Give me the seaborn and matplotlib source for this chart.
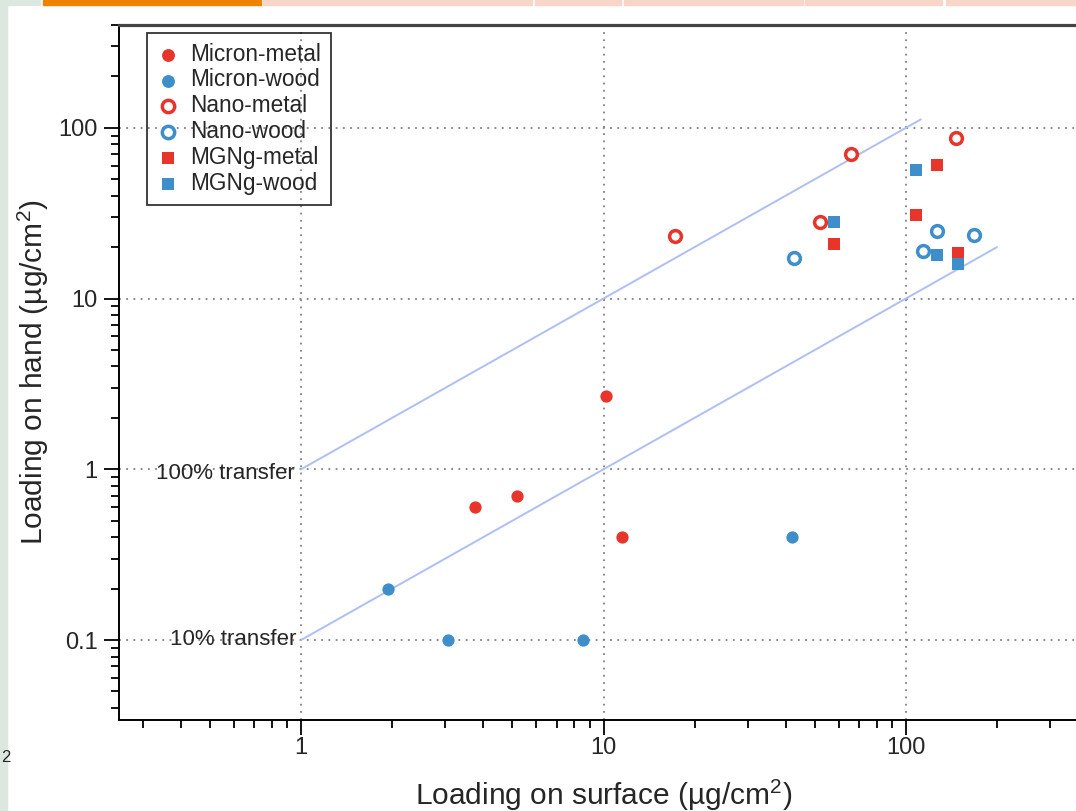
import matplotlib
matplotlib.use("Agg")
import matplotlib.pyplot as plt
import matplotlib.ticker as mticker
from matplotlib.patches import Rectangle
import seaborn as sns
import pandas as pd

# --- data (surface loading, hand loading) in ug/cm2 ---
micron_metal_x = [3.76, 5.19, 10.2, 11.5]
micron_metal_y = [0.60, 0.70, 2.69, 0.40]
micron_wood_x = [1.94, 3.05, 8.53, 42.1]
micron_wood_y = [0.198, 0.10, 0.10, 0.40]
nano_metal_x = [17.2, 52.0, 65.8, 146.0]
nano_metal_y = [23.2, 28.1, 70.7, 87.7]
nano_wood_x = [42.6, 114.0, 127.0, 168.0]
nano_wood_y = [17.3, 19.0, 24.8, 23.7]
mgng_metal_x = [57.8, 108.0, 127.0, 149.0]
mgng_metal_y = [21.0, 31.0, 60.4, 18.4]
mgng_wood_x = [57.8, 108.0, 127.0, 149.0]
mgng_wood_y = [28.1, 56.5, 18.1, 16.0]

group_names = ["Micron-metal", "Micron-wood", "Nano-metal",
               "Nano-wood", "MGNg-metal", "MGNg-wood"]
group_x = [micron_metal_x, micron_wood_x, nano_metal_x,
           nano_wood_x, mgng_metal_x, mgng_wood_x]
group_y = [micron_metal_y, micron_wood_y, nano_metal_y,
           nano_wood_y, mgng_metal_y, mgng_wood_y]

# reference transfer lines
line_100_x = [1, 112]
line_100_y = [1, 112]
line_10_x = [1, 200]
line_10_y = [0.1, 20]

x_ticks = [1, 10, 100]
y_ticks = [0.1, 1, 10, 100]

RED = "#E8352B"
BLUE = "#3D8EC9"
LINE = "#AEBFF2"

rows = []
for name, xs, ys in zip(group_names, group_x, group_y):
    for xv, yv in zip(xs, ys):
        rows.append({"group": name, "surface": xv, "hand": yv})
df = pd.DataFrame(rows)

sns.set_style("ticks")
plt.rcParams["font.family"] = ["Liberation Sans", "DejaVu Sans"]
plt.rcParams["mathtext.fontset"] = "custom"
plt.rcParams["mathtext.rm"] = "Liberation Sans"
plt.rcParams["mathtext.it"] = "Liberation Sans:italic"

fig = plt.figure(figsize=(10.76, 8.11), dpi=100)
ax = fig.add_axes([119 / 1076, 91 / 811, 969 / 1076, 695 / 811])
ax.set_xscale("log")
ax.set_yscale("log")

styles = {
    "Micron-metal": dict(marker="o", s=78, color=RED, linewidth=0),
    "Micron-wood": dict(marker="o", s=78, color=BLUE, linewidth=0),
    "Nano-metal": dict(marker="o", s=72, facecolor="white", edgecolor=RED, linewidth=2.5),
    "Nano-wood": dict(marker="o", s=72, facecolor="white", edgecolor=BLUE, linewidth=2.5),
    "MGNg-metal": dict(marker="s", s=70, color=RED, linewidth=0),
    "MGNg-wood": dict(marker="s", s=70, color=BLUE, linewidth=0),
}

sns.lineplot(x=line_100_x, y=line_100_y, ax=ax, color=LINE, linewidth=1.4, zorder=2)
sns.lineplot(x=line_10_x, y=line_10_y, ax=ax, color=LINE, linewidth=1.4, zorder=2)

for name in group_names:
    sub = df[df["group"] == name]
    sns.scatterplot(data=sub, x="surface", y="hand", ax=ax, label=name,
                    zorder=3, **styles[name])

ax.set_xlim(0.25, 400)
ax.set_ylim(0.034, 400)

fmt = mticker.FuncFormatter(lambda v, p: f"{v:g}")
ax.xaxis.set_major_locator(mticker.FixedLocator(x_ticks))
ax.yaxis.set_major_locator(mticker.FixedLocator(y_ticks))
ax.xaxis.set_major_formatter(fmt)
ax.yaxis.set_major_formatter(fmt)
ax.xaxis.set_minor_formatter(mticker.NullFormatter())
ax.yaxis.set_minor_formatter(mticker.NullFormatter())

ax.grid(True, which="major", color="#808080", linestyle=(0, (1, 3)), linewidth=1.3)
ax.tick_params(which="major", direction="out", length=10.5, width=1.3,
               labelsize=17, color="black")
ax.tick_params(which="minor", direction="out", length=5.5, width=1.3, color="black")
ax.tick_params(axis="y", which="major", pad=5)
ax.tick_params(axis="x", which="major", pad=2)
ax.tick_params(top=False, right=False, which="both")

for side in ["left", "bottom"]:
    ax.spines[side].set_color("black")
    ax.spines[side].set_linewidth(1.4)
ax.spines["top"].set_color("#444444")
ax.spines["top"].set_linewidth(2.3)
ax.spines["right"].set_visible(False)

ax.set_xlabel("Loading on surface (µg/cm$^2$)", fontsize=21.5, labelpad=13)
ax.set_ylabel("Loading on hand (µg/cm$^2$)", fontsize=21.5, labelpad=5)

ax.text(0.955, 0.941, "100% transfer", ha="right", va="center", fontsize=16)
ax.text(0.965, 0.1008, "10% transfer", ha="right", va="center", fontsize=16)

leg = ax.legend(loc="upper left", bbox_to_anchor=(0.0289, 0.9885), borderaxespad=0,
                fontsize=16.3, frameon=True, fancybox=False, facecolor="none",
                edgecolor="black", handlelength=1.0, handletextpad=0.5,
                labelspacing=0.13, borderpad=0.42, markerscale=1.05)
leg.get_frame().set_linewidth(1.3)

# --- slide decorations around the chart ---
W, H = 1076, 811
fig.patches.append(Rectangle((0, 0), 7 / W, 1, transform=fig.transFigure,
                             color="#DCE7E0", zorder=0))
fig.patches.append(Rectangle((0, 1 - 5 / H), 40 / W, 5 / H, transform=fig.transFigure,
                             color="#DCE7E0", zorder=0))
fig.patches.append(Rectangle((43 / W, 1 - 5 / H), 218 / W, 5 / H, transform=fig.transFigure,
                             color="#EF8200", zorder=0))
for x0, x1 in [(263, 532), (535, 621), (624, 803), (805, 942), (946, 1076)]:
    fig.patches.append(Rectangle((x0 / W, 1 - 5 / H), (x1 - x0) / W, 5 / H,
                                 transform=fig.transFigure, color="#F7D5C8", zorder=0))
fig.text(1 / W, 1 - 757 / H, "2", ha="left", va="center", fontsize=12)

fig.savefig("out.png", dpi=100)
